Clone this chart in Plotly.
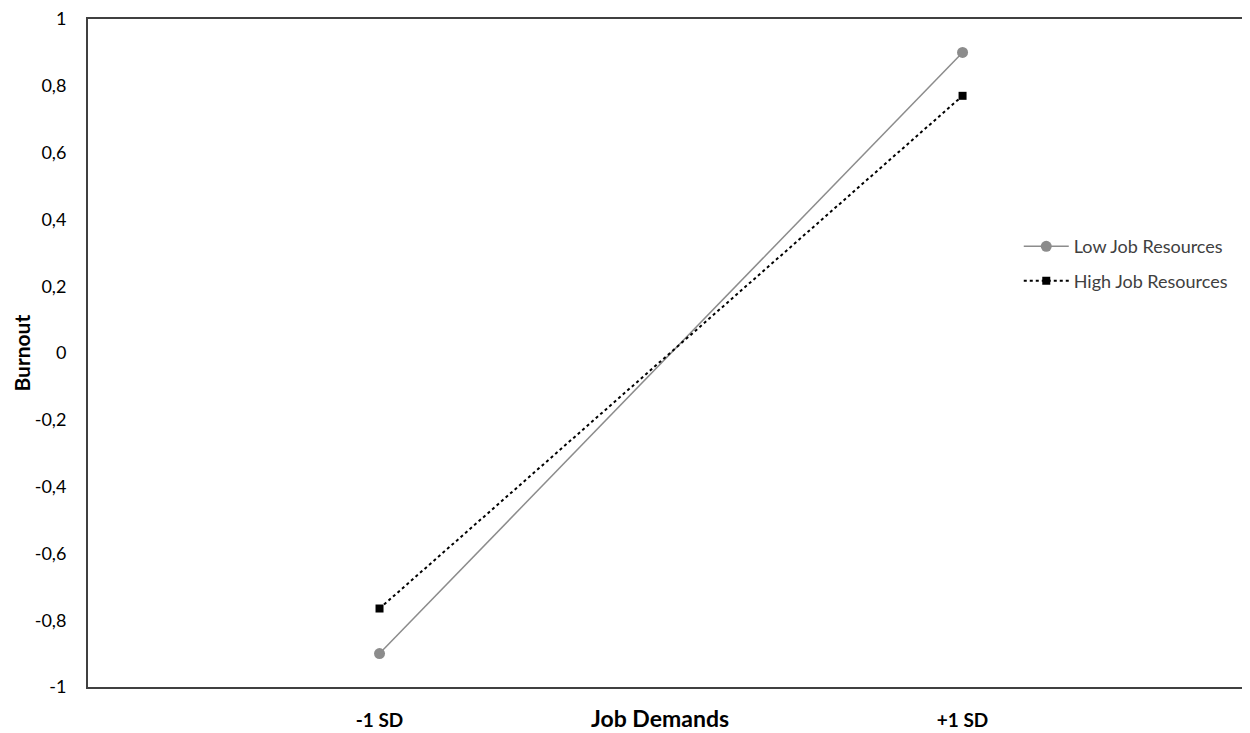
import plotly.graph_objects as go

categories = ["-1 SD", "+1 SD"]
low_resources = [-0.9, 0.9]
high_resources = [-0.765, 0.77]
y_ticks = [1, 0.8, 0.6, 0.4, 0.2, 0, -0.2, -0.4, -0.6, -0.8, -1]
y_tick_labels = ["1", "0,8", "0,6", "0,4", "0,2", "0", "-0,2", "-0,4", "-0,6", "-0,8", "-1"]

font_family = "Lato, 'Open Sans', sans-serif"

fig = go.Figure()
fig.add_trace(go.Scatter(
    x=categories, y=low_resources, name="Low Job Resources",
    mode="lines+markers", legendgroup="low",
    line=dict(color="#8c8c8c", width=1.5),
    marker=dict(symbol="circle", size=11, color="#8c8c8c"),
))
fig.add_trace(go.Scatter(
    x=categories, y=high_resources, name="High Job Resources",
    mode="lines+markers", legendgroup="high",
    line=dict(color="#000000", width=2, dash="dot"),
    marker=dict(symbol="square", size=8, color="#000000"),
))

fig.update_layout(
    width=1242, height=725,
    margin=dict(l=80, r=0, t=11, b=46),
    paper_bgcolor="white", plot_bgcolor="white",
    font=dict(family=font_family, size=18, color="#000000"),
    showlegend=True,
    legend=dict(
        x=0.801, y=0.687, xanchor="left", yanchor="top",
        font=dict(size=18, color="#404040"),
        itemwidth=45, bgcolor="rgba(0,0,0,0)",
        tracegroupgap=8,
    ),
    xaxis=dict(
        type="category", range=[-0.5, 1.493], automargin=False,
        showline=True, linecolor="#404040", linewidth=2, mirror=True,
        showgrid=False, zeroline=False, ticks="",
        ticklabelstandoff=15,
        tickfont=dict(size=19, color="#000000", family=font_family, weight="bold"),
    ),
    yaxis=dict(
        range=[-1, 1], tickvals=y_ticks, ticktext=y_tick_labels, automargin=False,
        showline=True, linecolor="#404040", linewidth=2, mirror=True,
        showgrid=False, zeroline=False, ticks="",
        ticklabelstandoff=16, ticklabeloverflow="allow",
        tickfont=dict(size=18, color="#000000"),
    ),
    annotations=[
        dict(
            text="<b>Job Demands</b>", x=0.492, y=-0.047, xref="paper", yref="paper",
            xanchor="center", yanchor="middle", showarrow=False,
            font=dict(size=23, color="#000000", family=font_family),
        ),
        dict(
            text="<b>Burnout</b>", x=-0.058, y=0.5, xref="paper", yref="paper",
            xanchor="center", yanchor="middle", showarrow=False, textangle=-90,
            font=dict(size=21, color="#000000", family=font_family),
        ),
    ],
)

fig.write_html("out.html")
